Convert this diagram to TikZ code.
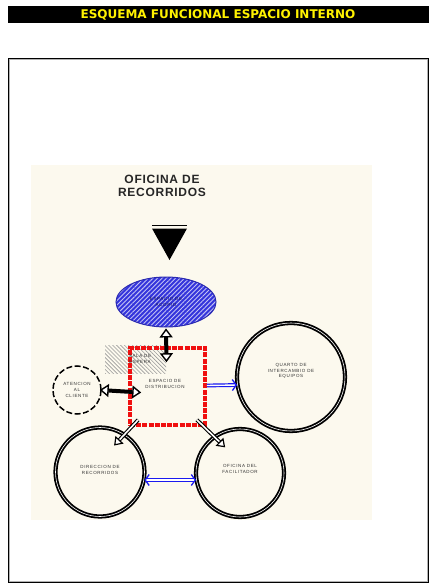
\documentclass[tikz,border=0pt]{standalone}
\usepackage{fontspec}
\setmainfont{Liberation Sans}
\newfontfamily\headfont{DejaVu Sans}
\usetikzlibrary{arrows.meta,patterns.meta,calc,shapes.geometric}
\definecolor{cream}{HTML}{FCF9EE}
\definecolor{hatchgrey}{HTML}{9A9A9A}
\definecolor{zoneblue}{HTML}{3434DC}
\definecolor{flowblue}{HTML}{1A1AF0}
\definecolor{hotred}{HTML}{F01010}
\tikzset{
  openhead/.tip={Triangle[open,fill=white,line width=1.4pt,length=9pt,width=13pt]},
  bluehead/.tip={Straight Barb[length=4pt,width=11pt,line width=1.3pt]},
  diaghead/.tip={Triangle[open,fill=white,line width=1.2pt,length=8pt,width=11pt]}
}
\begin{document}
\begin{tikzpicture}[x=1pt,y=-1pt,
  tiny/.style={font=\fontsize{4.5}{5.6}\selectfont\addfontfeature{LetterSpace=14}, align=center, inner sep=0pt, text=black!80},
  room/.style={circle, draw=black, double=white, double distance=0.6pt, line width=1.8pt, inner sep=0pt},
  dashroom/.style={circle, draw=black, line width=1.5pt, dash pattern=on 6pt off 2.5pt, inner sep=0pt},
  blackflow/.style={draw=black, line width=4pt, {openhead}-{openhead}},
  blueflow/.style={draw=flowblue, double=white, double distance=1.4pt, line width=1.2pt},
  diagflow/.style={draw=black, double=white, double distance=1.6pt, line width=1.1pt, -{diaghead}}
]
\useasboundingbox (0,0) rectangle (429,585);

% heading bar
\fill[black] (8,6) rectangle (429,23);
\node[font=\headfont\bfseries\fontsize{12}{13}\selectfont, text=yellow, inner sep=0pt] (head) at (218,14.5) {ESQUEMA FUNCIONAL ESPACIO INTERNO};

% page frame
\draw[gray!60, line width=1pt] (9.6,59.6) rectangle (427.4,581.4);
\draw[black, line width=1pt] (8.5,58.5) rectangle (428.5,582.5);

% drawing sheet
\fill[cream] (31,165) rectangle (372,520);

% title of the plan
\node[font=\bfseries\fontsize{12}{12.5}\selectfont\addfontfeature{LetterSpace=6}, align=center, inner sep=0pt, text=black!85] (title) at (162,186) {OFICINA DE\\RECORRIDOS};

% entrance marker
\draw[black, line width=1.4pt] (152,225.5) -- (187,225.5);
\fill[black] (152,228.5) -- (187,228.5) -- (169.5,260) -- cycle;

% storage zone
\node[ellipse, minimum width=100pt, minimum height=50pt, inner sep=0pt, draw=zoneblue!80!black, line width=1pt,
  preaction={fill=zoneblue}, pattern={Lines[angle=45,distance=3.2pt,line width=0.9pt]}, pattern color=white!70!zoneblue] (acopio) at (166,302) {};
\node[tiny, text=zoneblue!40!black] at (acopio) {ESPACIO DE\\ACOPIO};

% waiting area hatch
\fill[pattern={Lines[angle=-45,distance=2.8pt,line width=0.6pt]}, pattern color=hatchgrey] (105,345) rectangle (166,373);

% distribution space
\node[draw=hotred, line width=3.6pt, dash pattern=on 5pt off 1.2pt, minimum width=75pt, minimum height=77pt, inner sep=0pt] (dist) at (167.5,386.5) {};
\node[tiny] (espera) at (140,359) {SALA DE\\ESPERA};
\node[tiny] (distlbl) at (165,384) {ESPACIO DE\\DISTRIBUCION};

% surrounding rooms
\node[dashroom, minimum size=48pt] (cliente) at (77,390) {};
\node[tiny] at (cliente) {ATENCION\\AL\\CLIENTE};
\node[room, minimum size=108pt] (equipos) at (291,377) {};
\node[tiny] at ($(equipos)+(0,-6)$) {QUARTO DE\\INTERCAMBIO DE\\EQUIPOS};
\node[room, minimum size=89pt] (direccion) at (100,472) {};
\node[tiny] at ($(direccion)+(0,-2)$) {DIRECCION DE\\RECORRIDOS};
\node[room, minimum size=88pt] (facilitador) at (240,473) {};
\node[tiny] at ($(facilitador)+(0,-4)$) {OFICINA DEL\\FACILITADOR};

% flows
\draw[blackflow] ($(acopio.south)+(0,1)$) -- ($(dist.north)+(-1,16)$);
\draw[blackflow] ($(cliente.east)+(-2,0)$) -- ($(dist.west)+(13,6)$);
\draw[blueflow, -{bluehead}] ($(dist.east)+(0,-1)$) -- ($(equipos.west)+(1,8)$);
\draw[blueflow, {bluehead}-{bluehead}] ($(direccion.east)+(-1,8)$) -- ($(facilitador.west)+(1,7)$);
\draw[diagflow] ($(dist.south west)+(10,-7)$) -- ($(direccion.center)!0.66!(direccion.62)$);
\draw[diagflow] ($(dist.south east)+(-10,-7)$) -- ($(facilitador.center)!0.66!(facilitador.120)$);
\end{tikzpicture}
\end{document}
